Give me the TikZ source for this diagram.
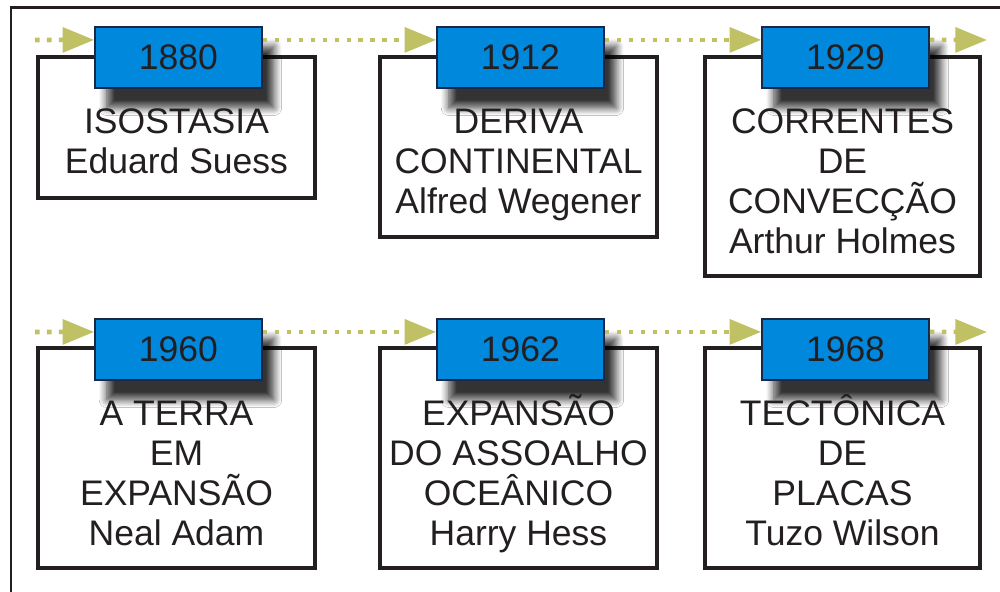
\documentclass[tikz,border=0pt]{standalone}
\usepackage{fontspec}
\setmainfont{Liberation Sans}
\usepackage{tikz}
\usetikzlibrary{arrows.meta, positioning, calc, fit, shadows, shadows.blur}
\definecolor{myink}{RGB}{35,31,32}
\definecolor{myblue}{RGB}{0,136,221}
\definecolor{mynavy}{RGB}{25,40,70}
\definecolor{myolive}{RGB}{192,192,100}
\tikzset{
  framebox/.style={rectangle, draw=myink, fill=white, line width=1.15pt, inner sep=0pt},
  yearbox/.style={rectangle, draw=mynavy, fill=myblue, line width=0.45pt,
    minimum width=47.5pt, minimum height=17.4pt, inner sep=0pt,
    font=\fontsize{10.1}{11.4}\selectfont, text=myink,
    blur shadow={shadow xshift=3.4pt, shadow yshift=-5.6pt, shadow blur radius=2.2pt,
      shadow blur steps=8, shadow opacity=80}},
  desc/.style={align=center, inner sep=0pt, anchor=north, text=myink,
    font=\fontsize{10.1}{11.4}\selectfont},
  timeline/.style={-{Triangle[length=9pt, width=7pt]}, color=myolive, line width=1.3pt,
    dash pattern=on 1.3pt off 2.1pt},
  frameline/.style={draw=myink, line width=0.85pt}
}
\newcommand{\topstrut}{\rule{0pt}{1em}}

\begin{document}
\begin{tikzpicture}[x=0.01cm, y=-0.01cm]
  \useasboundingbox (0,0) rectangle (1000,592);
  \draw[frameline] (1000,8) -- (11,8) -- (11,592);
  % first row
  \node (b1) [framebox, fit={(38,57) (315,198)}] {};
  \node (b2) [framebox, fit={(380,57) (657,237)}] {};
  \node (b3) [framebox, fit={(705,57) (980,276)}] {};
  \node (y1) [yearbox] at (178.5,57.5) {1880};
  \node (y2) [yearbox] at (520.5,57.5) {1912};
  \node (y3) [yearbox] at (845.5,57.5) {1929};
  \node (d1) [desc, below=2.4pt of y1.south -| b1.center] {\topstrut ISOSTASIA\\Eduard Suess};
  \node (d2) [desc, below=2.4pt of y2.south -| b2.center] {\topstrut DERIVA\\CONTINENTAL\\Alfred Wegener};
  \node (d3) [desc, below=2.4pt of y3.south -| b3.center] {\topstrut CORRENTES\\DE\\CONVECÇÃO\\Arthur Holmes};
  \coordinate (s1) at (35,40);
  \coordinate (e1) at (987,40);
  \draw[timeline] (s1) -- ([yshift=5pt]y1.west);
  \draw[timeline] ([yshift=5pt]y1.east) -- ([yshift=5pt]y2.west);
  \draw[timeline] ([yshift=5pt]y2.east) -- ([yshift=5pt]y3.west);
  \draw[timeline] ([yshift=5pt]y3.east) -- (e1);
  % second row
  \node (b4) [framebox, fit={(38,348) (315,568)}] {};
  \node (b5) [framebox, fit={(380,348) (657,568)}] {};
  \node (b6) [framebox, fit={(705,348) (980,568)}] {};
  \node (y4) [yearbox] at (178.5,349.5) {1960};
  \node (y5) [yearbox] at (520.5,349.5) {1962};
  \node (y6) [yearbox] at (845.5,349.5) {1968};
  \node (d4) [desc, below=2.4pt of y4.south -| b4.center] {\topstrut A TERRA\\EM\\EXPANSÃO\\Neal Adam};
  \node (d5) [desc, below=2.4pt of y5.south -| b5.center] {\topstrut EXPANSÃO\\DO ASSOALHO\\OCEÂNICO\\Harry Hess};
  \node (d6) [desc, below=2.4pt of y6.south -| b6.center] {\topstrut TECTÔNICA\\DE\\PLACAS\\Tuzo Wilson};
  \coordinate (s2) at (35,332);
  \coordinate (e2) at (987,332);
  \draw[timeline] (s2) -- ([yshift=5pt]y4.west);
  \draw[timeline] ([yshift=5pt]y4.east) -- ([yshift=5pt]y5.west);
  \draw[timeline] ([yshift=5pt]y5.east) -- ([yshift=5pt]y6.west);
  \draw[timeline] ([yshift=5pt]y6.east) -- (e2);
\end{tikzpicture}
\end{document}
